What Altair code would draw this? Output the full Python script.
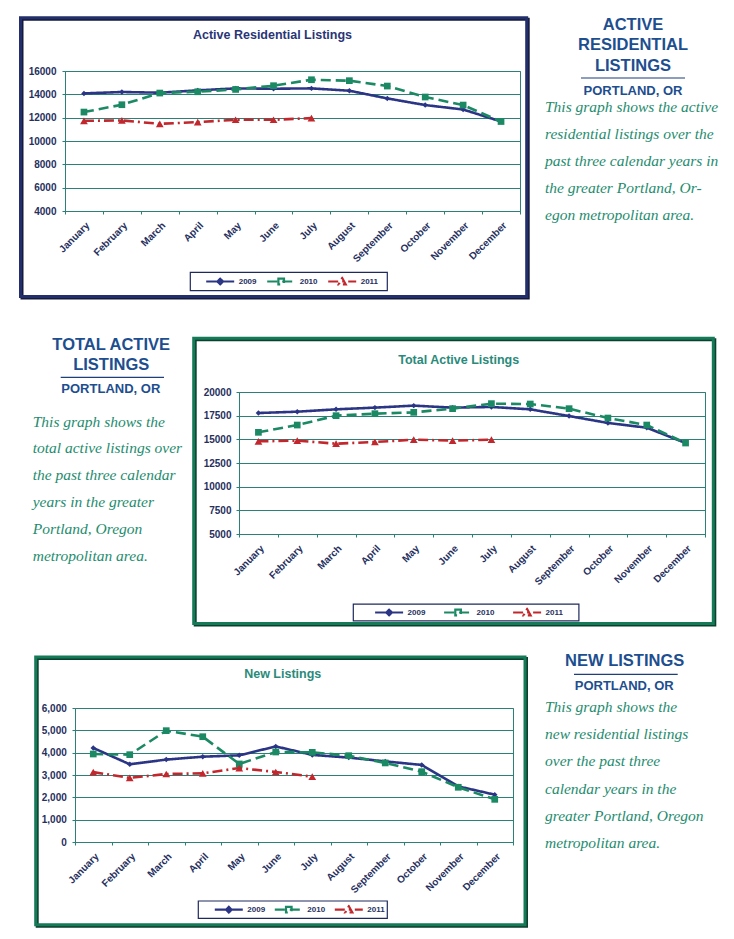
import altair as alt
import pandas as pd

months = ["January", "February", "March", "April", "May", "June", "July",
          "August", "September", "October", "November", "December"]
years = ["2009", "2010", "2011"]

# Active Residential Listings
ars_2009 = [14080, 14200, 14140, 14340, 14510, 14480, 14510, 14310, 13650, 13080, 12700, 11670]
ars_2010 = [12480, 13110, 14110, 14220, 14420, 14740, 15250, 15170, 14710, 13770, 13080, 11670]
ars_2011 = [11730, 11760, 11470, 11620, 11820, 11820, 11960]
ars_ticks = [4000, 6000, 8000, 10000, 12000, 14000, 16000]

# Total Active Listings
tal_2009 = [17780, 17920, 18170, 18350, 18560, 18350, 18420, 18170, 17460, 16730, 16230, 14610]
tal_2010 = [15740, 16510, 17500, 17710, 17850, 18240, 18770, 18730, 18240, 17250, 16510, 14610]
tal_2011 = [14790, 14860, 14540, 14720, 14960, 14860, 14960]
tal_ticks = [5000, 7500, 10000, 12500, 15000, 17500, 20000]

# New Listings
nl_2009 = [4210, 3480, 3690, 3820, 3880, 4280, 3900, 3780, 3610, 3450, 2490, 2120]
nl_2010 = [3940, 3910, 4985, 4715, 3495, 4030, 4015, 3865, 3540, 3150, 2450, 1910]
nl_2011 = [3130, 2870, 3045, 3075, 3310, 3135, 2925]
nl_ticks = [0, 1000, 2000, 3000, 4000, 5000, 6000]

text1_head = ["ACTIVE", "RESIDENTIAL", "LISTINGS"]
text1_para = ["This graph shows the active", "residential listings over the",
              "past three calendar years in", "the greater Portland, Or-",
              "egon metropolitan area."]
text2_head = ["TOTAL ACTIVE", "LISTINGS"]
text2_para = ["This graph shows the", "total active listings over",
              "the past three calendar", "years in the greater",
              "Portland, Oregon", "metropolitan area."]
text3_head = ["NEW LISTINGS"]
text3_para = ["This graph shows the", "new residential listings",
              "over the past three", "calendar years in the",
              "greater Portland, Oregon", "metropolitan area."]
place = "PORTLAND, OR"

NAVY_LINE = "#2b3585"
GREEN_LINE = "#1b8a64"
RED_LINE = "#c1272d"
LINE_COLORS = [NAVY_LINE, GREEN_LINE, RED_LINE]
SHAPES = ["diamond", "square", "triangle-up"]
SIZES = [30, 45, 60]
GRID = "#2b8078"
LABEL = "#26305e"
HEAD = "#1d4e8f"
PARA = "#1e8c6e"
FONT = "Liberation Sans"
SERIF = "Liberation Serif"

one = pd.DataFrame({"k": [0]})


def long_df(s09, s10, s11):
    rows = []
    for y, s in zip(years, [s09, s10, s11]):
        for i, (m, v) in enumerate(zip(months, s)):
            rows.append({"month": m, "idx": i, "year": y, "value": v})
    return pd.DataFrame(rows)


def spacer(w, h, anchor=0):
    return alt.Chart(one).mark_rect(opacity=0).encode(
        x=alt.value(0), x2=alt.value(1), y=alt.value(-anchor), y2=alt.value(1 - anchor)
    ).properties(width=w, height=h)


p09 = "M-1,0H1M0,-0.2L0.2,0L0,0.2L-0.2,0Z"
p10 = "M-1,0H1M-0.2,-0.2H0.2V0.2H-0.2Z"
p11 = "M-1,0H1M0,-0.25L0.25,0.2H-0.25Z"
sym_expr = ("datum.value == '2009' ? '%s' : (datum.value == '2010' ? '%s' : '%s')"
            % (p09, p10, p11))


def make_chart(df, w, h, ydom, yvals, yfmt, frame, fcol, scol, title, tcol, txy,
               box, lxy, colpad, lpad):
    x_enc = alt.X("month:N", sort=months,
                  scale=alt.Scale(type="band", paddingInner=0, paddingOuter=0),
                  axis=alt.Axis(title=None, labelAngle=-45, labelFont=FONT,
                                labelFontWeight="bold", labelFontSize=10,
                                labelColor=LABEL, labelPadding=6, labelOverlap=False,
                                tickBand="extent", tickColor=GRID, tickSize=3,
                                domainColor=GRID, grid=False))
    y_enc = alt.Y("value:Q", scale=alt.Scale(domain=ydom, nice=False, zero=False),
                  axis=alt.Axis(title=None, values=yvals, format=yfmt, labelFont=FONT,
                                labelFontWeight="bold", labelFontSize=10,
                                labelColor=LABEL, labelPadding=lpad, tickColor=GRID,
                                tickSize=3, domain=False, grid=True,
                                gridColor=GRID, gridWidth=1))
    leg = alt.Legend(orient="none", legendX=lxy[0], legendY=lxy[1],
                     direction="horizontal", columns=3, title=None,
                     labelFont=FONT, labelFontWeight="bold", labelFontSize=8,
                     labelColor=LABEL, labelOffset=3, columnPadding=colpad,
                     symbolSize=784, symbolStrokeWidth=2.2, clipHeight=10,
                     padding=0, symbolType={"expr": sym_expr})
    cscale = alt.Scale(domain=years, range=LINE_COLORS)
    lines = alt.Chart(df).mark_line(strokeWidth=2.6).encode(
        x=x_enc, y=y_enc,
        color=alt.Color("year:N", scale=cscale, legend=leg),
        strokeDash=alt.StrokeDash("year:N", scale=alt.Scale(
            domain=years, range=[[1, 0], [10, 5], [10, 4, 2, 4]]), legend=leg),
        order=alt.Order("idx:Q"),
    )
    pts = []
    for yr, col, shp, sz in zip(years, LINE_COLORS, SHAPES, SIZES):
        pts.append(alt.Chart(df).transform_filter(alt.datum.year == yr).mark_point(
            filled=True, opacity=1, color=col, shape=shp, size=sz).encode(x=x_enc, y=y_enc))
    fx1, fy1, fx2, fy2 = frame
    shadow = alt.Chart(one).mark_rect(filled=False, stroke=scol, strokeWidth=3).encode(
        x=alt.value(fx1 + 1.5), x2=alt.value(fx2 + 1.5),
        y=alt.value(fy1 + 1.5), y2=alt.value(fy2 + 1.5))
    border = alt.Chart(one).mark_rect(filled=False, stroke=fcol, strokeWidth=3).encode(
        x=alt.value(fx1), x2=alt.value(fx2), y=alt.value(fy1), y2=alt.value(fy2))
    ttl = alt.Chart(one).mark_text(
        text=title, font=FONT, fontWeight="bold", fontSize=12.5, color=tcol,
        align="center", baseline="alphabetic").encode(
        x=alt.value(txy[0]), y=alt.value(txy[1]))
    bx1, by1, bx2, by2 = box
    lbox = alt.Chart(one).mark_rect(filled=False, stroke="#1f2a5c", strokeWidth=1.2).encode(
        x=alt.value(bx1), x2=alt.value(bx2), y=alt.value(by1), y2=alt.value(by2))
    return alt.layer(shadow, border, ttl, lbox, lines, *pts).properties(
        width=w, height=h, view=alt.ViewBackground(stroke=GRID, strokeWidth=1))


def text_panel(w, head, hxy, hlh, rx1, rx2, ry, pxy, para, paxy, plh):
    h = alt.Chart(one).mark_text(
        text=head, font=FONT, fontWeight="bold", fontSize=16.5, color=HEAD,
        align="center", baseline="alphabetic", lineHeight=hlh).encode(
        x=alt.value(hxy[0]), y=alt.value(hxy[1]))
    r = alt.Chart(one).mark_rule(color="#1d3f7a", strokeWidth=1.2).encode(
        x=alt.value(rx1), x2=alt.value(rx2), y=alt.value(ry))
    p = alt.Chart(one).mark_text(
        text=place, font=FONT, fontWeight="bold", fontSize=13, color=HEAD,
        align="center", baseline="alphabetic").encode(
        x=alt.value(pxy[0]), y=alt.value(pxy[1]))
    t = alt.Chart(one).mark_text(
        text=para, font=SERIF, fontStyle="italic", fontSize=15.5, color=PARA,
        align="left", baseline="alphabetic", lineHeight=plh).encode(
        x=alt.value(paxy[0]), y=alt.value(paxy[1]))
    return alt.layer(h, r, p, t).properties(width=w, height=1)


chart1 = make_chart(long_df(ars_2009, ars_2010, ars_2011), 455, 140,
                    [4000, 16000], ars_ticks, "d",
                    (-44.5, -53.2, 461.7, 225.5), "#232f6b", "#141a3c",
                    "Active Residential Listings", "#2a3577", (207.5, -31.7),
                    (125.3, 201.3, 322.3, 219.7), (139.7, 205.5), 9, 6)
chart2 = make_chart(long_df(tal_2009, tal_2010, tal_2011), 466, 142,
                    [5000, 20000], tal_ticks, "d",
                    (-45.3, -53.7, 474.3, 231.5), "#147a58", "#0b3f2e",
                    "Total  Active Listings", "#2a8a7a", (219.7, -28.3),
                    (114.3, 212.2, 339.9, 228.8), (134.6, 215.5), 17, 5)
chart3 = make_chart(long_df(nl_2009, nl_2010, nl_2011), 438, 134,
                    [0, 6000], nl_ticks, ",d",
                    (-39.3, -51, 450, 216.8), "#147a58", "#0b3f2e",
                    "New Listings", "#2a8a7a", (207.7, -29.7),
                    (123.3, 193, 312.3, 210.3), (138.3, 196.7), 8, 5.7)

text1 = text_panel(1, text1_head, (113, -41), 20.3, 61, 165, 7, (113, 24),
                   text1_para, (25, 40.7), 27.2)
text2 = text_panel(231, text2_head, (103.2, -42), 20, 52.7, 156, -14.7, (102.8, 1),
                   text2_para, (24.7, 34.7), 26.8)
text3 = text_panel(1, text3_head, (111.7, -42.3), 20, 61, 164.7, -33.7, (111.2, -18),
                   text3_para, (32, 3.7), 27.3)

indep = dict(color="independent", strokeDash="independent")

row1 = alt.hconcat(spacer(57, 1), chart1, text1, spacing=0, bounds="flush"
                   ).resolve_scale(**indep).resolve_legend(**indep)
row2 = alt.hconcat(text2, chart2, spacing=0, bounds="flush"
                   ).resolve_scale(**indep).resolve_legend(**indep)
row3 = alt.hconcat(spacer(67, 1), chart3, text3, spacing=0, bounds="flush"
                   ).resolve_scale(**indep).resolve_legend(**indep)

# nested rows take no height in a flush layout: spacers carry the row pitch
chart = alt.vconcat(spacer(1, 33, anchor=30), row1, spacer(1, 321), row2,
                    spacer(1, 316), row3, spacing=0, bounds="flush").properties(
    padding=0, background="white").resolve_scale(**indep).resolve_legend(
    **indep).configure_view(strokeWidth=0)

chart.save("out.html", embed_options={"renderer": "svg", "actions": False})
